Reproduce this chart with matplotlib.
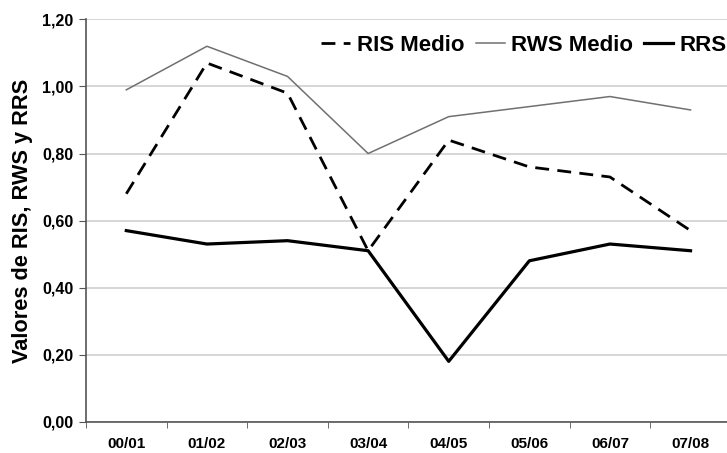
import numpy as np
import matplotlib.pyplot as plt

# Data
seasons = ["00/01", "01/02", "02/03", "03/04", "04/05", "05/06", "06/07", "07/08"]
ris_medio = [0.68, 1.07, 0.98, 0.51, 0.84, 0.76, 0.73, 0.57]
rws_medio = [0.99, 1.12, 1.03, 0.80, 0.91, 0.94, 0.97, 0.93]
rrs = [0.57, 0.53, 0.54, 0.51, 0.18, 0.48, 0.53, 0.51]

plt.rcParams['font.family'] = ['Liberation Sans', 'DejaVu Sans']
plt.rcParams['font.weight'] = 'bold'

fig = plt.figure(figsize=(7.27, 4.53), dpi=100)
ax = fig.add_axes([0.1183, 0.0691, 0.887, 0.888])

x = np.arange(len(seasons))
ax.plot(x, ris_medio, color="black", linewidth=2, linestyle=(0, (5, 3)), label="RIS Medio")
ax.plot(x, rws_medio, color="#707070", linewidth=1.1, label="RWS Medio")
ax.plot(x, rrs, color="black", linewidth=2.3, label="RRS")

ax.set_xlim(-0.5, 7.5)
ax.set_ylim(0, 1.2)
ax.set_yticks(np.arange(0, 1.21, 0.2))
ax.set_yticklabels([f"{v:.2f}".replace(".", ",") for v in np.arange(0, 1.21, 0.2)],
                   fontsize=11.5, fontweight="bold")
ax.set_xticks(x)
ax.set_xticklabels(seasons, fontsize=11, fontweight="bold")
ax.set_xticks(np.arange(-0.5, 7.6, 1), minor=True)
ax.tick_params(axis="x", which="major", length=0, pad=11)
ax.tick_params(axis="x", which="minor", length=4, color="#555555")
ax.tick_params(axis="y", length=5, color="#555555", pad=4)

ax.grid(axis="y", color="#d0d0d0", linewidth=1.2)
ax.set_axisbelow(True)
for s in ["top", "right"]:
    ax.spines[s].set_visible(False)
for s in ["left", "bottom"]:
    ax.spines[s].set_color("#555555")
    ax.spines[s].set_linewidth(1.2)

ax.set_ylabel("Valores de RIS, RWS y RRS", fontsize=15.7, fontweight="bold", labelpad=7)

ax.legend(loc="center right", bbox_to_anchor=(1.0, 0.9), bbox_transform=fig.transFigure,
          ncol=3, frameon=False, borderpad=0, borderaxespad=0,
          handlelength=1.3, handletextpad=0.3, columnspacing=0.5,
          prop={"size": 16, "weight": "bold"})

fig.savefig("out.png", dpi=100)
